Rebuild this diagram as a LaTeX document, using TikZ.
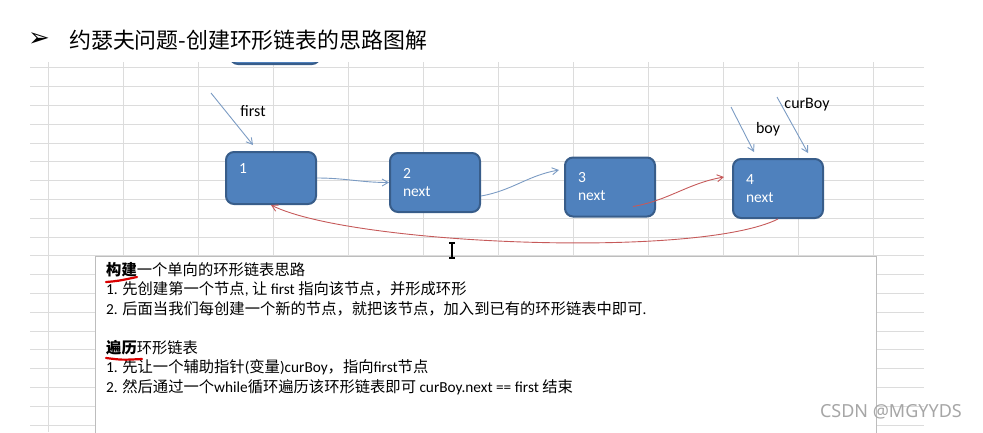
\documentclass[tikz,border=0pt]{standalone}
\usepackage{fontspec}
\setmainfont{Noto Sans CJK SC}
\newfontfamily\latfont{Carlito}
\newfontfamily\dingfont{DejaVu Sans}
\newfontfamily\marksans{Noto Sans}
\newcommand\latw[1]{{\latfont #1}}
\usepackage{xcolor}
\usepackage{tikz}
\usetikzlibrary{arrows.meta, positioning}
\definecolor{nodefill}{HTML}{4F81BD}
\definecolor{nodeline}{HTML}{385D8A}
\definecolor{ptrblue}{HTML}{7B9BC3}
\definecolor{linkred}{HTML}{C65A5A}
\definecolor{gridgray}{HTML}{DCDCDC}
\definecolor{boxgray}{HTML}{BDBDBD}

\begin{document}
\begin{tikzpicture}[x=1pt, y=-1pt, >={Straight Barb[angle=60:7pt]},
        listnode/.style={rectangle, draw=nodeline, fill=nodefill, line width=2pt, rounded corners=8pt, minimum width=90pt, minimum height=59pt, text width=64pt, align=left, text=white, font=\latfont\fontsize{15.5}{18}\selectfont},
        ptr/.style={->, draw=ptrblue, line width=0.9pt},
        link/.style={->, draw=linkred, line width=0.9pt},
        tag/.style={inner sep=0pt, font=\latfont\fontsize{16}{18}\selectfont},
        gridline/.style={draw=gridgray, line width=0.8pt},
        redmark/.style={draw=red!85!black, line width=2.2pt, line cap=round}]
    \useasboundingbox (0,0) rectangle (983,432);
    \clip (0,0) rectangle (983,432);

    % sheet grid
    \foreach \k in {0,...,19}
        \draw[gridline] (30,67.7+18.8*\k) -- (924,67.7+18.8*\k);
    \foreach \k in {0,...,11}
        \draw[gridline] (48+75*\k,62) -- (48+75*\k,432);

    % heading
    \node[inner sep=0pt, font=\dingfont\fontsize{26}{26}\selectfont] (bullet) at (39,40) {➢};
    \node[anchor=west, inner sep=0pt, font=\fontsize{21.9}{24}\selectfont] (title) at (69,40) {约瑟夫问题-创建环形链表的思路图解};

    % node cut off by the top of the sheet
    \begin{scope}
        \clip (30,62) rectangle (924,432);
        \node[listnode, minimum height=40pt] (n0) at (275,44) {};
    \end{scope}

    % notes
    \draw[draw=boxgray, fill=white, line width=1pt] (95,256) rectangle (876,440);
    \node[anchor=north west, inner sep=0pt, align=left, font=\fontsize{15.3}{19.5}\selectfont] (notes) at (106,262) {%
        \textbf{构建}一个单向的环形链表思路\\
        \latw{1.} 先创建第一个节点\latw{,} 让 \latw{first} 指向该节点，并形成环形\\
        \latw{2.} 后面当我们每创建一个新的节点，就把该节点，加入到已有的环形链表中即可\latw{.}\\
        \mbox{}\\
        \textbf{遍历}环形链表\\
        \latw{1.} 先让一个辅助指针\latw{(}变量\latw{)curBoy}，指向\latw{first}节点\\
        \latw{2.} 然后通过一个\latw{while}循环遍历该环形链表即可 \latw{curBoy.next == first} 结束};
    \draw[redmark] (106,282) .. controls (118,281) .. (137,277);
    \draw[redmark] (106,358) .. controls (122,360) .. (142,359);

    % list
    \node[listnode, minimum height=52pt] (n1) at (271,178) {1\\\mbox{}};
    \node[listnode, right=72pt of n1, yshift=-4.5pt] (n2) {2\\next};
    \node[listnode, right=83pt of n2, yshift=-4.5pt] (n3) {3\\next};
    \node[listnode, right=76pt of n3, yshift=-1.5pt] (n4) {4\\next};

    \draw[ptr] (n1.east) to[out=0, in=180] (n2.west);
    \draw[ptr] ([yshift=-13.5pt]n2.east) to[out=10, in=190] ([xshift=-5pt, yshift=17pt]n3.west);
    \draw[link] ([xshift=-23pt, yshift=11pt]n3.south east) to[out=10, in=190] ([xshift=-8pt, yshift=11.5pt]n4.west);
    \draw[link] (n4.south) .. controls +(-80,40) and +(80,40) .. (n1.south);

    % pointers
    \coordinate (firstfrom) at (211,93);
    \coordinate (boyfrom) at (731,107);
    \coordinate (curfrom) at (777,97);
    \draw[ptr] (firstfrom) -- ([xshift=-18pt, yshift=6pt]n1.north);
    \draw[ptr] (boyfrom) -- ([xshift=-24pt, yshift=6pt]n4.north);
    \draw[ptr] (curfrom) -- ([xshift=30pt, yshift=5pt]n4.north);
    \node[tag] (firstlbl) at (253,111) {first};
    \node[tag] (boylbl) at (768,129) {boy};
    \node[tag] (curlbl) at (807,105) {curBoy};

    % text cursor
    \draw[line width=1.2pt] (452,243) -- (452,258) (449,243) -- (455,243) (449,258) -- (455,258);

    \node[anchor=east, inner sep=0pt, text=gray!70, font=\marksans\fontsize{18}{18}\selectfont] (mark) at (962,412) {CSDN @MGYYDS};
\end{tikzpicture}
\end{document}
